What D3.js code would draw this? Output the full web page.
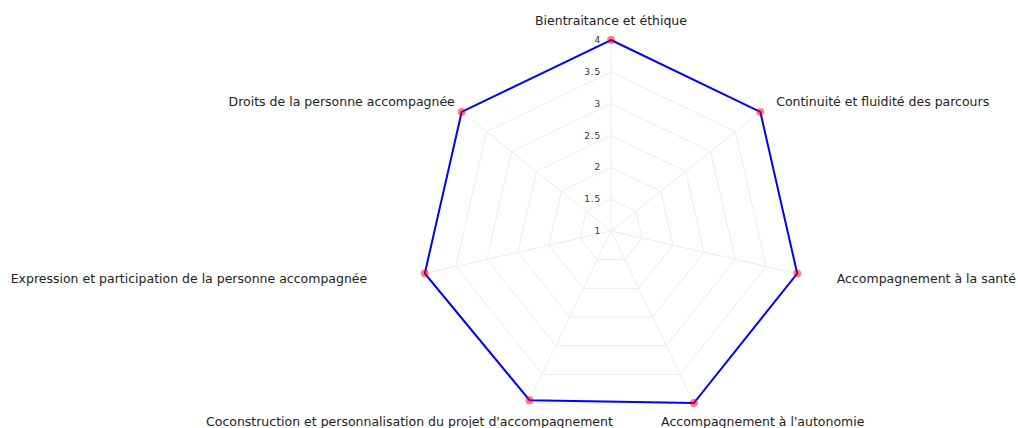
<!DOCTYPE html>
<html lang="fr">
<head>
  <meta charset="UTF-8">
  <title>Radar</title>
  <script type="text/javascript" src="https://cdn.jsdelivr.net/npm/d3@7/dist/d3.min.js"></script>
  <style type="text/css">
  body {
    background: #fff;
    margin: 0;
    padding: 0;
  }
  svg {
    display: block;
    font-family: "DejaVu Sans", sans-serif;
  }
  .grid {
    fill: none;
    stroke: #ececec;
    stroke-width: 1px;
  }
  .spoke {
    stroke: #ececec;
    stroke-width: 1px;
  }
  .tick {
    fill: #333;
    font-size: 9px;
    letter-spacing: 0.8px;
  }
  .axisLabel {
    fill: #222;
    font-size: 12.5px;
  }
  </style>
</head>
<body>
  <div id="chart"></div>
<script type="text/javascript">
  var labels = [
    'Bientraitance et éthique',
    'Continuité et fluidité des parcours',
    'Accompagnement à la santé',
    "Accompagnement à l'autonomie",
    "Coconstruction et personnalisation du projet d'accompagnement",
    'Expression et participation de la personne accompagnée',
    'Droits de la personne accompagnée'
  ];
  var scores = [4, 4, 4, 4, 3.95, 4, 4];
  var tickValues = [1, 1.5, 2, 2.5, 3, 3.5, 4];

  // placement des libellés (ancre + petit décalage)
  var labelLayout = [
    {anchor: 'middle', dx: 0, dy: 0},
    {anchor: 'start', dx: 1, dy: 2},
    {anchor: 'start', dx: 21, dy: 1},
    {anchor: 'start', dx: -41, dy: 1},
    {anchor: 'end', dx: 93, dy: 1},
    {anchor: 'end', dx: -39, dy: 1},
    {anchor: 'end', dx: 8, dy: 2}
  ];

  var width = 1018, height = 428;
  var cx = 611, cy = 231, radius = 191, labelRadius = 210;
  var n = labels.length;

  var svg = d3.select('#chart')
    .append('svg')
    .attr('width', width)
    .attr('height', height);

  var rScale = d3.scaleLinear()
    .domain([1, 4])
    .range([0, radius]);

  var angle = d3.scaleLinear()
    .domain([0, n])
    .range([0, 2 * Math.PI]);

  function pos(i, r) {
    var a = angle(i);
    return [cx + r * Math.sin(a), cy - r * Math.cos(a)];
  }

  var g = svg.append('g');

  // grille
  g.selectAll('.grid')
    .data(tickValues.slice(1))
    .enter()
    .append('polygon')
    .attr('class', 'grid')
    .attr('points', function(v) {
      return d3.range(n).map(function(i) { return pos(i, rScale(v)).join(','); }).join(' ');
    });

  g.selectAll('.spoke')
    .data(d3.range(n))
    .enter()
    .append('line')
    .attr('class', 'spoke')
    .attr('x1', cx)
    .attr('y1', cy)
    .attr('x2', function(i) { return pos(i, rScale(4))[0]; })
    .attr('y2', function(i) { return pos(i, rScale(4))[1]; });

  // valeurs de l'échelle
  g.selectAll('.tick')
    .data(tickValues)
    .enter()
    .append('text')
    .attr('class', 'tick')
    .attr('x', cx - 10)
    .attr('y', function(v) { return cy - rScale(v); })
    .attr('dy', '0.35em')
    .attr('text-anchor', 'end')
    .text(function(v) { return v; });

  // série
  var line = d3.line()
    .x(function(d, i) { return pos(i, rScale(d))[0]; })
    .y(function(d, i) { return pos(i, rScale(d))[1]; })
    .curve(d3.curveLinearClosed);

  g.append('path')
    .datum(scores)
    .attr('d', line)
    .attr('fill', 'none')
    .attr('stroke', '#0000ff')
    .attr('stroke-width', 2);

  g.selectAll('.dot')
    .data(scores)
    .enter()
    .append('circle')
    .attr('class', 'dot')
    .attr('cx', function(d, i) { return pos(i, rScale(d))[0]; })
    .attr('cy', function(d, i) { return pos(i, rScale(d))[1]; })
    .attr('r', 4)
    .attr('fill', 'rgba(255,0,0,0.5)');

  // libellés des axes
  g.selectAll('.axisLabel')
    .data(labels)
    .enter()
    .append('text')
    .attr('class', 'axisLabel')
    .attr('x', function(d, i) { return pos(i, labelRadius)[0] + labelLayout[i].dx; })
    .attr('y', function(d, i) { return pos(i, labelRadius)[1] + labelLayout[i].dy; })
    .attr('dy', '0.35em')
    .attr('text-anchor', function(d, i) { return labelLayout[i].anchor; })
    .text(function(d) { return d; });
</script>
</body>
</html>
